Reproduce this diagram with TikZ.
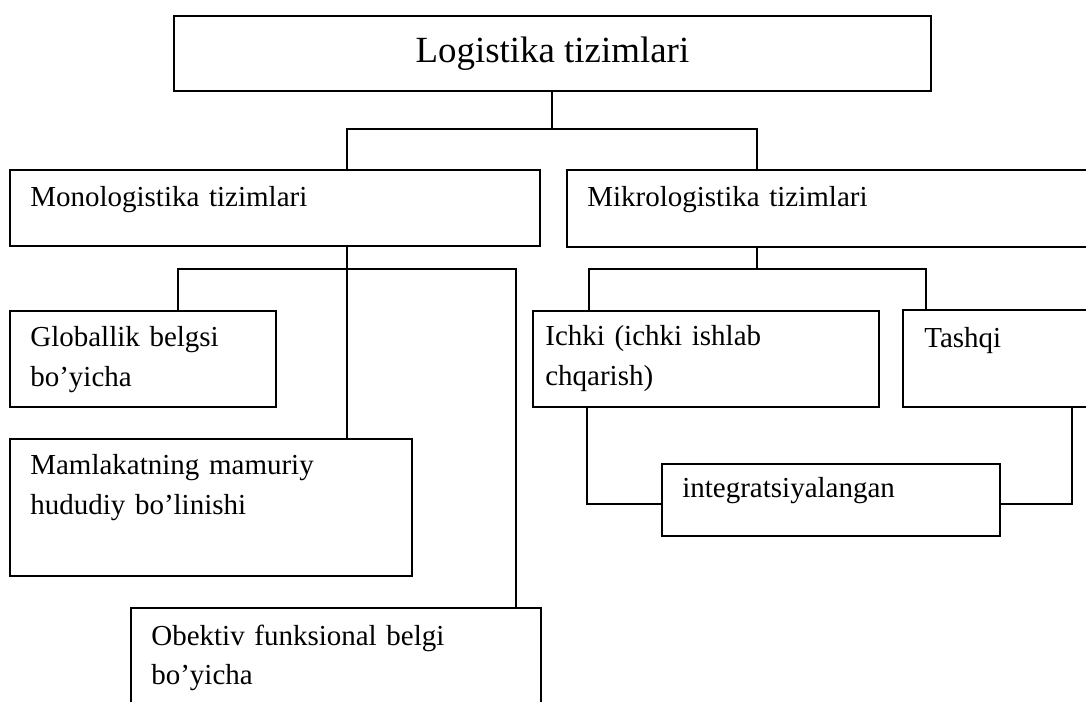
\documentclass[tikz,border=0pt]{standalone}
\usepackage{fontspec}
\setmainfont{Liberation Serif}
\usetikzlibrary{calc}

\tikzset{
  hop/.style={draw, line width=1.1pt, inner sep=0pt, anchor=north west},
  chu/.style={anchor=base west, inner sep=0pt, text width=9cm, align=left,
              font=\fontsize{16.5}{22.2}\selectfont},
  noi/.style={line width=1.1pt}
}

\begin{document}
\begin{tikzpicture}[x=0.02cm, y=-0.02cm]
		\useasboundingbox (0,0) rectangle (1086,702);
		\clip (0,0) rectangle (1086,702);
		
		% Khung chính
		\node[hop, minimum width=15.14cm, minimum height=1.5cm,
		      font=\fontsize{21}{25}\selectfont] (top) at (173,15) {Logistika tizimlari};
		
		% Hai nhánh lớn
		\node[hop, minimum width=10.6cm, minimum height=1.52cm] (mono) at (9,169) {};
		\node[hop, minimum width=10.88cm, minimum height=1.54cm] (mikro) at (566,169) {};
		\node[chu] (monot) at ($(mono.north west)+(21,38)$) {Monologistika tizimlari};
		\node[chu] (mikrot) at ($(mikro.north west)+(21,38)$) {Mikrologistika tizimlari};
		
		% Nhánh trái
		\node[hop, minimum width=5.32cm, minimum height=1.92cm] (glob) at (9,310) {};
		\node[hop, minimum width=8.04cm, minimum height=2.74cm] (mam) at (9,438) {};
		\node[hop, minimum width=8.2cm, minimum height=2.66cm] (obek) at (130,607) {};
		\node[chu] (globt) at ($(glob.north west)+(21,37)$) {Globallik belgsi\\bo’yicha};
		\node[chu] (mamt) at ($(mam.north west)+(21,37)$) {Mamlakatning mamuriy\\hududiy bo’linishi};
		\node[chu] (obekt) at ($(obek.north west)+(21,38)$) {Obektiv funksional belgi\\bo’yicha};
		
		% Nhánh phải
		\node[hop, minimum width=6.92cm, minimum height=1.92cm] (ichki) at (532,310) {};
		\node[hop, minimum width=4.16cm, minimum height=1.94cm] (tashqi) at (902,309) {};
		\node[hop, minimum width=6.76cm, minimum height=1.44cm] (integ) at (661,463) {};
		\node[chu] (ichkit) at ($(ichki.north west)+(13,36)$) {Ichki (ichki ishlab\\chqarish)};
		\node[chu] (tashqit) at ($(tashqi.north west)+(22,39)$) {Tashqi};
		\node[chu] (integt) at ($(integ.north west)+(21,35)$) {integratsiyalangan};
		
		% Đường nối
		\coordinate (m1) at (347,129);
		\coordinate (m2) at (757,129);
		\draw[noi] (top.south) -- (top.south |- m1);
		\draw[noi] (mono.north -| m1) -- (m1) -- (m2) -- (mikro.north -| m2);
		
		\coordinate (g1) at (178,269);
		\coordinate (g2) at (347,269);
		\coordinate (g3) at (516,269);
		\draw[noi] (mono.south -| g2) -- (g2) -- (mam.north -| g2);
		\draw[noi] (glob.north -| g1) -- (g1) -- (g3) -- (obek.north -| g3);
		
		\coordinate (k1) at (589,269);
		\coordinate (k2) at (757,269);
		\coordinate (k3) at (926,269);
		\draw[noi] (mikro.south -| k2) -- (k2);
		\draw[noi] (ichki.north -| k1) -- (k1) -- (k3) -- (tashqi.north -| k3);
		
		\coordinate (i1) at (587,504);
		\coordinate (i2) at (1072,504);
		\draw[noi] (ichki.south -| i1) -- (i1) -- (integ.west |- i1);
		\draw[noi] (tashqi.south -| i2) -- (i2) -- (integ.east |- i2);
\end{tikzpicture}
\end{document}
